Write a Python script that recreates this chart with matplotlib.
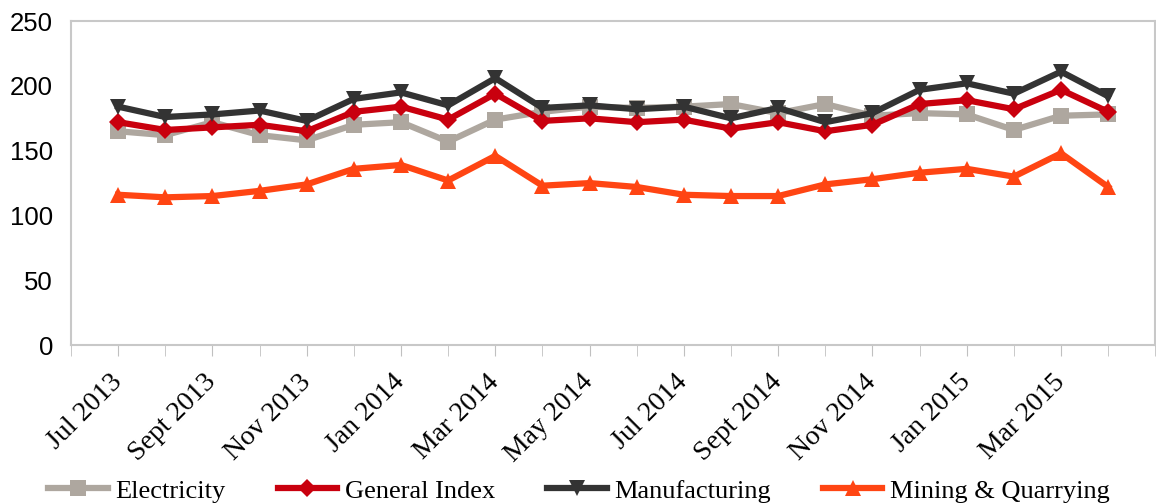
import matplotlib
matplotlib.use('Agg')
import matplotlib.pyplot as plt

months = ['Jul 2013', 'Aug 2013', 'Sept 2013', 'Oct 2013', 'Nov 2013', 'Dec 2013',
          'Jan 2014', 'Feb 2014', 'Mar 2014', 'Apr 2014', 'May 2014', 'Jun 2014',
          'Jul 2014', 'Aug 2014', 'Sept 2014', 'Oct 2014', 'Nov 2014', 'Dec 2014',
          'Jan 2015', 'Feb 2015', 'Mar 2015', 'Apr 2015']

electricity = [165, 162, 172, 162, 158, 170, 172, 157, 174, 180, 184, 183,
               184, 186, 179, 186, 177, 179, 178, 166, 177, 178]
general = [172, 166, 168, 170, 165, 180, 184, 174, 194, 173, 175, 172,
           174, 167, 172, 165, 170, 186, 189, 182, 197, 180]
manufacturing = [184, 176, 178, 181, 173, 190, 195, 185, 206, 183, 185, 182,
                 184, 175, 183, 172, 179, 197, 202, 194, 211, 192]
mining = [116, 114, 115, 119, 124, 136, 139, 127, 146, 123, 125, 122,
          116, 115, 115, 124, 128, 133, 136, 130, 148, 122]

series = [
    ('Electricity', electricity, '#aea79f', 's', 11),
    ('General Index', general, '#c9000e', 'D', 9),
    ('Manufacturing', manufacturing, '#333333', 'v', 12),
    ('Mining & Quarrying', mining, '#ff4513', '^', 12),
]

fig = plt.figure(figsize=(11.56, 5.03), dpi=100)
ax = fig.add_axes([0.0614, 0.314, 0.938, 0.644])

x = list(range(len(months)))
for name, vals, col, mk, ms in series:
    ax.plot(x, vals, color=col, lw=4.5, marker=mk, markersize=ms,
            markeredgewidth=0, label=name)

ax.set_xlim(-1, len(months))
ax.set_ylim(0, 250)
ax.set_yticks(range(0, 251, 50))
ax.set_xticks(range(-1, len(months) + 1), minor=True)
ax.set_xticks(x[::2])
ax.set_xticklabels(months[::2], rotation=45, ha='right', va='center',
                   rotation_mode='anchor', family='Liberation Serif', fontsize=20)
ax.tick_params(axis='x', which='both', length=8, color='#c0c0c0', pad=16)
ax.tick_params(axis='y', length=0, pad=13, labelsize=18.5)
for lab in ax.get_yticklabels():
    lab.set_family('Liberation Sans')
for sp in ax.spines.values():
    sp.set_color('#c8c8c8')
    sp.set_linewidth(1.5)

leg = fig.legend(loc='center', bbox_to_anchor=(0.501, 0.024), ncol=4,
                 frameon=False, handlelength=2.25, handletextpad=0.3,
                 columnspacing=1.97, prop={'family': 'Liberation Serif', 'size': 19})

fig.savefig('out.png', dpi=100)
